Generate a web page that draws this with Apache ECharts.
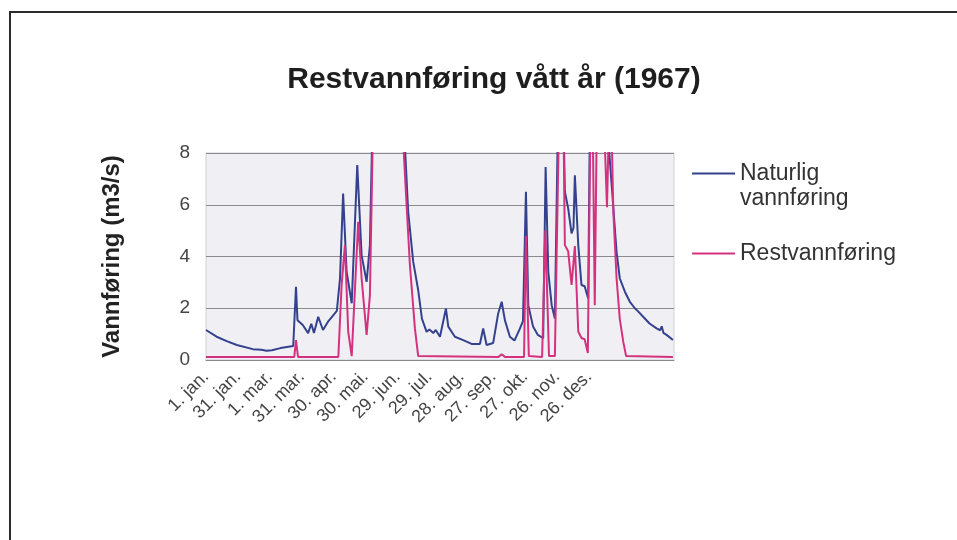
<!DOCTYPE html>
<html>
<head>
<meta charset="utf-8">
<script src="https://cdn.jsdelivr.net/npm/echarts@6/dist/echarts.min.js"></script>
<style>
  html, body { margin: 0; padding: 0; background: #fff; }
  #chart { width: 957px; height: 540px; }
</style>
</head>
<body>
<div id="chart"></div>
<script>
// dag nr. (fra 1. jan.) og verdier lest av figuren, verdier over 8 klippes
const tickLabels = ['1. jan.', '31. jan.', '1. mar.', '31. mar.', '30. apr.', '30. mai.', '29. jun.',
  '29. jul.', '28. aug.', '27. sep.', '27. okt.', '26. nov.', '26. des.'];

const naturligDays = [0, 10, 19.5, 29, 44, 52, 57, 62, 70, 76, 82, 84.6, 86, 91, 96, 99, 101.5, 105.5,
  110, 114.7, 119, 123, 126, 128.9, 132.2, 137, 138, 142.2, 146.3, 151, 154.1, 156.7, 185.5, 190.1,
  194.8, 199.5, 203, 207.4, 210, 213.7, 216, 220, 225.6, 227.8, 234, 241.8, 249.7, 257.5, 260.6,
  263.8, 270, 274.7, 278, 281, 285.7, 290, 295, 298, 300.8, 303, 307.5, 312, 317, 319.3, 321.8, 325,
  328, 331, 336, 337.4, 340.5, 343.7, 345.5, 346.8, 350, 353, 356, 359.3, 361, 376.6, 379.7, 382.8,
  386, 389, 393.8, 398.5, 403.2, 405, 406.5, 411, 417, 423.6, 427, 428.5, 430, 433, 439];
const naturligValues = [1.16, 0.9, 0.73, 0.58, 0.42, 0.4, 0.36, 0.38, 0.46, 0.5, 0.54, 2.83, 1.54, 1.35,
  1.04, 1.4, 1.04, 1.67, 1.16, 1.48, 1.7, 1.9, 3.16, 6.43, 3.41, 2.19, 2.2, 7.53, 4.05, 3.02, 4.44, 9.5,
  9.5, 5.73, 3.8, 2.7, 1.6, 1.09, 1.18, 1.04, 1.16, 0.9, 1.99, 1.29, 0.9, 0.77, 0.62, 0.62, 1.22, 0.58,
  0.66, 1.8, 2.25, 1.54, 0.9, 0.75, 1.2, 1.5, 6.5, 2.12, 1.29, 0.97, 0.84, 7.46, 3.41, 2.12, 1.6, 9.5,
  9.5, 6.5, 5.86, 4.89, 5.1, 7.14, 4.44, 2.9, 2.85, 2.38, 9.5, 9.5, 7.7, 5.98, 4.18, 3.16, 2.64, 2.25,
  2.0, 2.05, 1.87, 1.67, 1.41, 1.22, 1.15, 1.3, 1.05, 0.97, 0.77];

const restDays = [0, 83, 84.6, 86.5, 124.4, 127.5, 130.6, 133.7, 137, 143.1, 146.3, 151, 154.1, 157.2,
  184, 188.6, 191.7, 196.4, 199.5, 275, 278, 281, 299, 300.8, 303.5, 316, 319, 322.5, 328, 332, 336,
  337.4, 340.5, 343.7, 346.8, 350, 353, 356, 359, 361.5, 363.5, 365.5, 367.5, 374, 377, 379, 381, 383,
  386, 389, 392.3, 395, 439];
const restValues = [0.12, 0.12, 0.77, 0.12, 0.12, 2.9, 4.44, 1.1, 0.15, 5.34, 3.16, 0.97, 2.5, 9.5,
  9.5, 5.98, 3.67, 1.22, 0.15, 0.12, 0.22, 0.12, 0.12, 4.8, 0.15, 0.12, 5.0, 0.15, 0.15, 9.5, 9.5,
  4.44, 4.2, 2.9, 4.4, 1.1, 0.85, 0.8, 0.27, 9.5, 9.5, 2.12, 9.5, 9.5, 5.9, 9.5, 9.5, 5.7,
  3.16, 1.6, 0.7, 0.15, 0.12];

const zip = (xs, ys) => xs.map((x, i) => [x, ys[i]]);

const chart = echarts.init(document.getElementById('chart'));
const font = "'Liberation Sans', Arial, sans-serif";
const legendText = { fontSize: 23, lineHeight: 25, color: '#333', fontFamily: font };

chart.setOption({
  animation: false,
  backgroundColor: '#fff',
  textStyle: { fontFamily: font },
  title: {
    text: 'Restvannføring vått år (1967)',
    left: 489,
    textAlign: 'center',
    top: 60,
    textStyle: { fontSize: 30, fontWeight: 'bold', color: '#1e1e1e', fontFamily: font }
  },
  graphic: [{
    type: 'rect',
    shape: { x: 10, y: 12, width: 960, height: 540 },
    style: { fill: 'none', stroke: '#2a2a2a', lineWidth: 2 },
    silent: true
  }],
  legend: [
    {
      data: ['Naturlig vannføring'],
      // tom første linje gjør at ikonet står ved "Naturlig"
      formatter: name => '\n' + name.replace(' ', '\n'),
      orient: 'vertical',
      left: 692,
      top: 136,
      padding: 0,
      icon: 'rect',
      itemWidth: 43,
      itemHeight: 2,
      textStyle: legendText
    },
    {
      data: ['Restvannføring'],
      orient: 'vertical',
      left: 692,
      top: 241,
      padding: 0,
      icon: 'rect',
      itemWidth: 43,
      itemHeight: 2,
      textStyle: legendText
    }
  ],
  grid: {
    left: 206,
    right: 283,
    top: 153,
    bottom: 180,
    show: true,
    backgroundColor: '#f0f0f4',
    borderColor: '#d0d0d8',
    borderWidth: 1
  },
  xAxis: {
    type: 'value',
    min: 0,
    max: 440,
    interval: 30,
    axisLine: { show: true, lineStyle: { color: '#888', width: 1 } },
    axisTick: { show: false },
    splitLine: { show: false },
    axisLabel: {
      rotate: 45,
      margin: 14,
      fontSize: 18,
      color: '#444',
      fontFamily: font,
      formatter: v => tickLabels[v / 30] || ''
    }
  },
  yAxis: {
    type: 'value',
    min: 0,
    max: 8,
    interval: 2,
    name: 'Vannføring (m3/s)',
    nameLocation: 'middle',
    nameGap: 82,
    nameTextStyle: { fontSize: 24, fontWeight: 'bold', color: '#222', fontFamily: font },
    axisLine: { show: false },
    axisTick: { show: false },
    splitLine: { show: true, lineStyle: { color: '#8a8a8a', width: 1 } },
    axisLabel: { fontSize: 19, color: '#444', margin: 16, fontFamily: font }
  },
  series: [
    {
      name: 'Naturlig vannføring',
      type: 'line',
      data: zip(naturligDays, naturligValues),
      symbol: 'none',
      clip: true,
      lineStyle: { color: '#34428e', width: 2 },
      itemStyle: { color: '#34428e' }
    },
    {
      name: 'Restvannføring',
      type: 'line',
      data: zip(restDays, restValues),
      symbol: 'none',
      clip: true,
      lineStyle: { color: '#d4327e', width: 2 },
      itemStyle: { color: '#d4327e' }
    }
  ]
});
</script>
</body>
</html>
